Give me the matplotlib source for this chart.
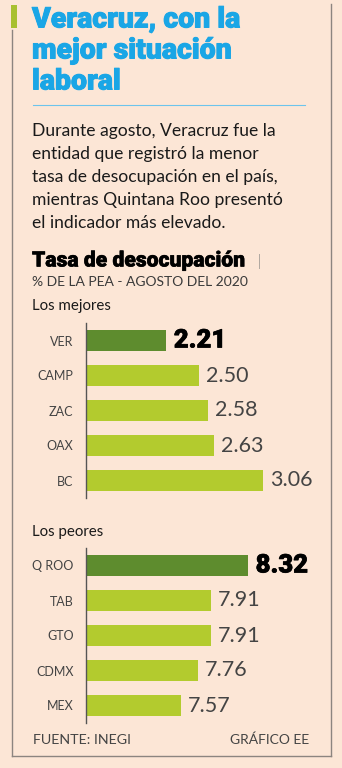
import matplotlib.pyplot as plt
import matplotlib.patheffects as pe
from matplotlib.lines import Line2D
from matplotlib.patches import Rectangle

# Tasa de desocupación, % de la PEA, agosto 2020
best_states = ['VER', 'CAMP', 'ZAC', 'OAX', 'BC']
best_values = [2.21, 2.50, 2.58, 2.63, 3.06]
worst_states = ['Q ROO', 'TAB', 'GTO', 'CDMX', 'MEX']
worst_values = [8.32, 7.91, 7.91, 7.76, 7.57]

title_lines = ['Veracruz, con la', 'mejor situación', 'laboral']
body_lines = [
    'Durante agosto, Veracruz fue la',
    'entidad que registró la menor',
    'tasa de desocupación en el país,',
    'mientras Quintana Roo presentó',
    'el indicador más elevado.',
]

BG = '#fce6d6'
DARK_GREEN = '#5e8c2e'
LIGHT_GREEN = '#b3cb2e'
CYAN = '#1aa6e6'
FRAME = '#8c8580'
TEXT = '#1a1a1a'
SOFT = '#3a3a3a'
HEAVY = ['Roboto', 'DejaVu Sans']

W, H = 342, 768
fig = plt.figure(figsize=(W / 100, H / 100), dpi=100)
fig.patch.set_facecolor(BG)
plt.rcParams['font.family'] = ['Lato', 'DejaVu Sans']


def fx(px):
    return px / W


def fy(py):
    return 1 - py / H


def line(x0, y0, x1, y1, color, lw):
    fig.add_artist(Line2D([fx(x0), fx(x1)], [fy(y0), fy(y1)], color=color,
                          lw=lw, transform=fig.transFigure))


def thick(color, w):
    return [pe.withStroke(linewidth=w, foreground=color)]


# frame and accent
line(11.5, 30, 11.5, 756, FRAME, 1.0)
line(331, 4, 331, 756, FRAME, 1.0)
line(11.5, 756, 331, 756, FRAME, 1.0)
fig.add_artist(Rectangle((fx(11), fy(28)), fx(6), 23 / H, color='#a8c030',
                         transform=fig.transFigure, lw=0))

# headline
for i, t in enumerate(title_lines):
    fig.text(fx(32), fy(20 + i * 31), t, color=CYAN, fontsize=20.5,
             fontweight='black', family=HEAVY, va='center', ha='left',
             path_effects=thick(CYAN, 0.7))
line(33, 105, 305, 105, '#6cc4ec', 0.8)

for i, t in enumerate(body_lines):
    fig.text(fx(32), fy(131 + i * 23), t, color=TEXT, fontsize=12.6,
             va='center', ha='left')

fig.text(fx(32), fy(261), 'Tasa de desocupación', color='black',
         fontsize=15.2, fontweight='black', family=HEAVY, va='center',
         ha='left', path_effects=thick('black', 0.4))
line(259, 254, 259, 268, '#b0a8a0', 0.7)
fig.text(fx(32), fy(282), '% DE LA PEA - AGOSTO DEL 2020', color=SOFT,
         fontsize=10, va='center', ha='left')
fig.text(fx(32), fy(306), 'Los mejores', color=TEXT, fontsize=10.8,
         va='center', ha='left')
fig.text(fx(32), fy(532), 'Los peores', color=TEXT, fontsize=10.8,
         va='center', ha='left')


def bar_panel(states, values, top_px, xmin, px_per_unit):
    # axes spans 35 px per row; axis line starts 18 px above the first bar
    n = len(states)
    height_px = 35 * n
    width_px = 240
    ax = fig.add_axes([fx(86), fy(top_px + height_px), width_px / W, height_px / H])
    ax.set_facecolor('none')
    colors = [DARK_GREEN] + [LIGHT_GREEN] * (n - 1)
    y = list(range(n))
    ax.barh(y, values, height=0.6, color=colors, left=0)
    ax.set_xlim(xmin, xmin + width_px / px_per_unit)
    ax.set_ylim(n - 0.5, -0.5)
    for s in ['top', 'right', 'bottom']:
        ax.spines[s].set_visible(False)
    ax.spines['left'].set_color('#555555')
    ax.spines['left'].set_linewidth(1.0)
    ax.set_xticks([])
    ax.set_yticks(y)
    ax.set_yticklabels(states, fontsize=9, color='#444444')
    ax.tick_params(axis='y', length=0, pad=9)
    for i, v in enumerate(values):
        if i == 0:
            ax.text(v + 8 / px_per_unit, i, f'{v:.2f}', va='center', ha='left',
                    fontsize=18.5, fontweight='black', family=HEAVY,
                    color='black', path_effects=thick('black', 0.5))
        else:
            ax.text(v + 7 / px_per_unit, i, f'{v:.2f}', va='center', ha='left',
                    fontsize=15.5, color='#444444')
    return ax


bar_panel(best_states, best_values, 323, 1.51, 114)
bar_panel(worst_states, worst_values, 548, 6.51, 89.3)

fig.text(fx(33), fy(740), 'FUENTE: INEGI', color='#444444', fontsize=10.3,
         va='center', ha='left')
fig.text(fx(309), fy(740), 'GRÁFICO EE', color='#444444', fontsize=10,
         va='center', ha='right')

fig.savefig('out.png', dpi=100, facecolor=BG)
